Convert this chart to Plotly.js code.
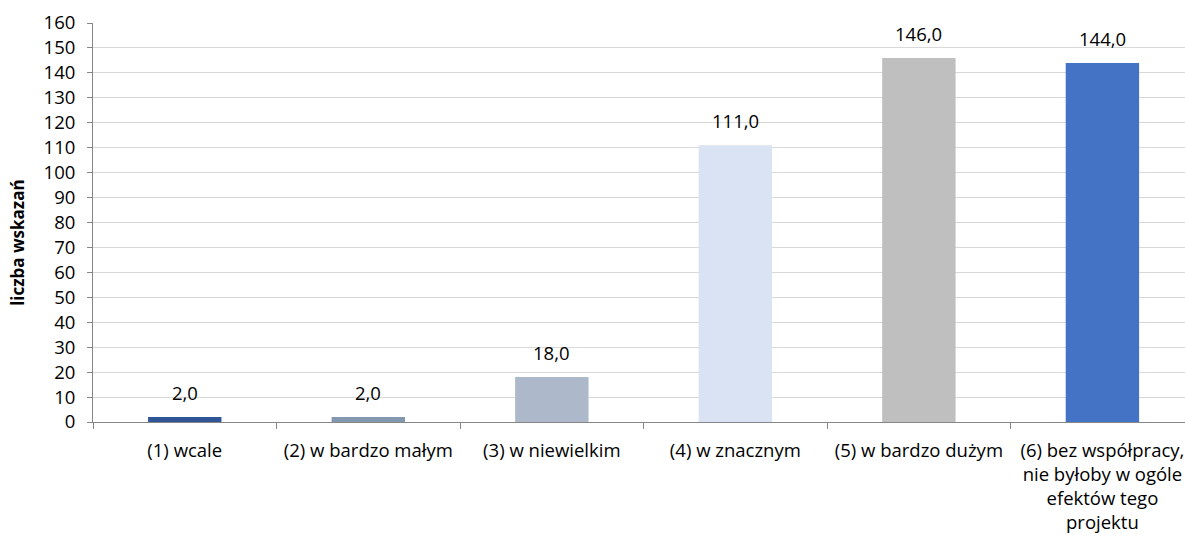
<!DOCTYPE html>
<html><head><meta charset="utf-8">
<script src="https://cdn.plot.ly/plotly-3.0.1.min.js"></script>
<style>body{margin:0;background:#fff}#chart{width:1185px;height:537px}</style>
</head><body><div id="chart"></div>
<script>
const categories = ["(1) wcale", "(2) w bardzo małym", "(3) w niewielkim", "(4) w znacznym", "(5) w bardzo dużym", "(6) bez współpracy,<br>nie byłoby w ogóle<br>efektów tego<br>projektu"];
const values = [2, 2, 18, 111, 146, 144];
const colors = ["#2F5597", "#8497B0", "#ADB9CA", "#DAE3F3", "#BFBFBF", "#4472C4"];
const yTitle = "liczba wskazań";
const font = "'Open Sans', sans-serif";
const fs = 18.5;

const annotations = categories.map((c, i) => ({
  x: c, y: values[i], xref: "x", yref: "y",
  text: values[i].toFixed(1).replace(".", ","),
  showarrow: false, yanchor: "bottom", yshift: 10,
  font: {family: font, size: fs, color: "#000"}
}));
annotations.push({
  xref: "paper", yref: "paper", x: -0.0687, y: 0.449,
  xanchor: "center", yanchor: "middle", textangle: -90,
  text: "<b>" + yTitle + "</b>", showarrow: false,
  font: {family: font, size: 17, color: "#000"}
});

Plotly.newPlot("chart", [{
  type: "bar",
  x: categories,
  y: values,
  marker: {color: colors},
  width: 0.4,
  hoverinfo: "none"
}], {
  width: 1185, height: 537,
  margin: {l: 93, r: 0, t: 23, b: 115},
  paper_bgcolor: "#fff", plot_bgcolor: "#fff",
  showlegend: false,
  annotations: annotations,
  font: {family: font, size: fs, color: "#000"},
  xaxis: {
    type: "category",
    range: [-0.5, 5.45],
    showline: true, linecolor: "#868686", linewidth: 1,
    ticks: "outside", tickson: "boundaries", ticklen: 6, tickcolor: "#868686",
    ticklabelstandoff: 12,
    tickfont: {family: font, size: fs, color: "#000"},
    showgrid: false, fixedrange: true
  },
  yaxis: {
    range: [0, 160], dtick: 10,
    showline: true, linecolor: "#868686", linewidth: 1,
    ticks: "outside", ticklen: 5, tickcolor: "#868686",
    ticklabelstandoff: 8,
    gridcolor: "#D9D9D9", gridwidth: 1,
    zeroline: false,
    tickfont: {family: font, size: fs, color: "#000"},
    fixedrange: true
  }
}, {displayModeBar: false, staticPlot: true});
</script></body></html>
